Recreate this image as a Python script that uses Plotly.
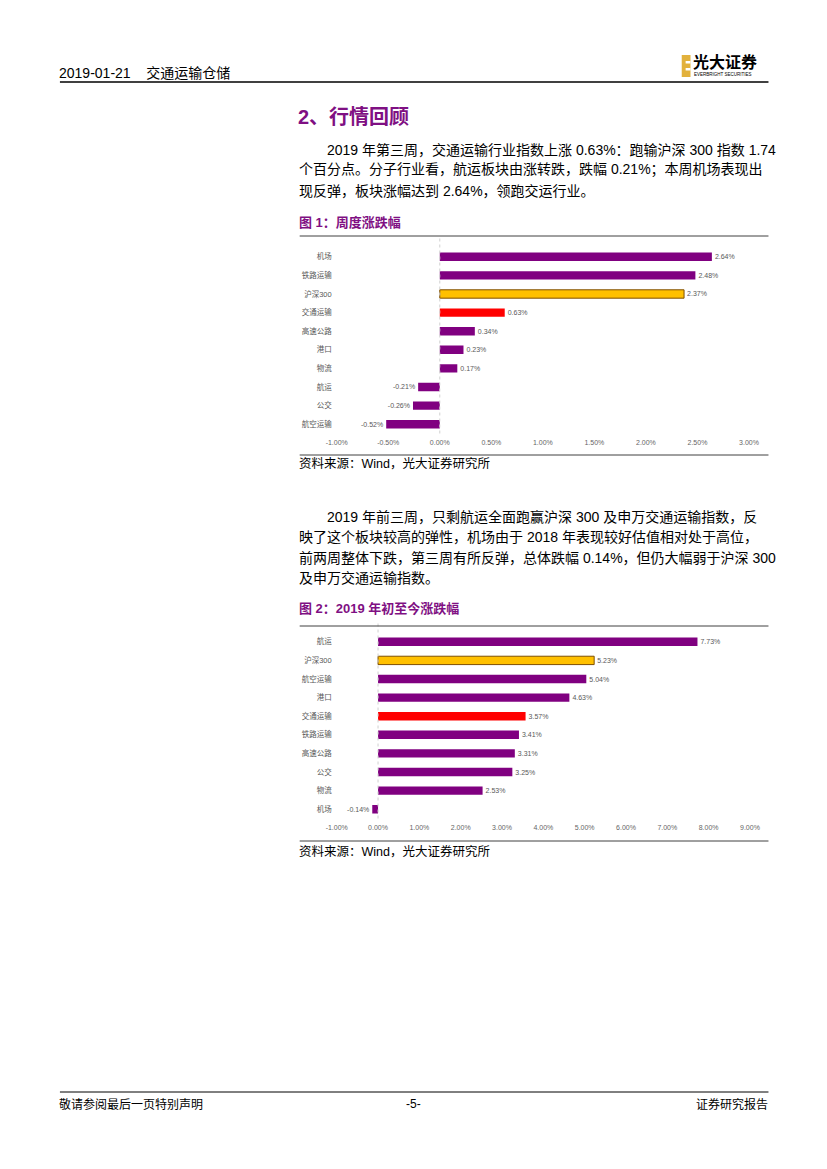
import plotly.graph_objects as go

# ---- data ----
weekly_cats = ["机场", "铁路运输", "沪深300", "交通运输", "高速公路", "港口", "物流", "航运", "公交", "航空运输"]
weekly_vals = [2.64, 2.48, 2.37, 0.63, 0.34, 0.23, 0.17, -0.21, -0.26, -0.52]

ytd_cats = ["航运", "沪深300", "航空运输", "港口", "交通运输", "铁路运输", "高速公路", "公交", "物流", "机场"]
ytd_vals = [7.73, 5.23, 5.04, 4.63, 3.57, 3.41, 3.31, 3.25, 2.53, -0.14]

weekly_ticks = [-1.0, -0.5, 0.0, 0.5, 1.0, 1.5, 2.0, 2.5, 3.0]
ytd_ticks = [-1, 0, 1, 2, 3, 4, 5, 6, 7, 8, 9]

PURPLE = "#800080"
ORANGE = "#FFC000"
RED = "#FF0000"
W, H = 827, 1169
OFF = 8  # page body margin in the browser
FONT = "Liberation Sans, Noto Sans CJK SC, sans-serif"


def colors(cats):
    out = []
    for c in cats:
        if c == "沪深300":
            out.append(ORANGE)
        elif c == "交通运输":
            out.append(RED)
        else:
            out.append(PURPLE)
    return out


def borders(cats):
    return ["#7F4F00" if c == "沪深300" else "rgba(0,0,0,0)" for c in cats]


def px(x):
    return (x - OFF) / W


def py(y):
    return 1 - (y - OFF) / H


fig = go.Figure()

fig.add_trace(go.Bar(
    x=weekly_vals, y=weekly_cats, orientation="h", width=0.45,
    marker=dict(color=colors(weekly_cats), line=dict(color=borders(weekly_cats), width=1)),
    text=[f"{v:.2f}%" for v in weekly_vals], textposition="outside",
    textfont=dict(size=7, color="#595959", family=FONT), cliponaxis=False,
    xaxis="x", yaxis="y", showlegend=False, hoverinfo="skip"))

fig.add_trace(go.Bar(
    x=ytd_vals, y=ytd_cats, orientation="h", width=0.45,
    marker=dict(color=colors(ytd_cats), line=dict(color=borders(ytd_cats), width=1)),
    text=[f"{v:.2f}%" for v in ytd_vals], textposition="outside",
    textfont=dict(size=7, color="#595959", family=FONT), cliponaxis=False,
    xaxis="x2", yaxis="y2", showlegend=False, hoverinfo="skip"))

axis_font = dict(size=7, color="#666666", family=FONT)

fig.update_layout(
    width=W, height=H, margin=dict(l=0, r=0, t=0, b=0),
    paper_bgcolor="white", plot_bgcolor="white",
    font=dict(family=FONT),
    xaxis=dict(domain=[px(334), px(757)], range=[-1, 3], anchor="y",
               tickvals=weekly_ticks, ticktext=[f"{v:.2f}%" for v in weekly_ticks],
               tickfont=axis_font, showgrid=False, zeroline=False, showline=False, ticks="",
               ticklabelstandoff=3, fixedrange=True),
    yaxis=dict(domain=[py(433.5), py(247.5)], anchor="x", autorange="reversed",
               categoryorder="array", categoryarray=weekly_cats,
               tickfont=dict(size=7.5, color="#595959", family=FONT),
               showgrid=False, zeroline=False, showline=False, ticks="", ticklabelstandoff=4),
    xaxis2=dict(domain=[px(334), px(758)], range=[-1, 9], anchor="y2",
                tickvals=ytd_ticks, ticktext=[f"{v:.2f}%" for v in ytd_ticks],
                tickfont=axis_font, showgrid=False, zeroline=False, showline=False, ticks="",
                ticklabelstandoff=3),
    yaxis2=dict(domain=[py(818.5), py(632.5)], anchor="x2", autorange="reversed",
                categoryorder="array", categoryarray=ytd_cats,
                tickfont=dict(size=7.5, color="#595959", family=FONT),
                showgrid=False, zeroline=False, showline=False, ticks="", ticklabelstandoff=4),
)

shapes = []
# zero lines
for xr, yr in (("x", "y domain"), ("x2", "y2 domain")):
    shapes.append(dict(type="line", xref=xr, yref=yr, x0=0, x1=0, y0=0, y1=1.05,
                       line=dict(color="#D0D0D0", width=1, dash="dot")))
# header / rules
shapes.append(dict(type="line", xref="paper", yref="paper", x0=px(50), x1=px(777), y0=py(82), y1=py(82),
                   line=dict(color="black", width=1.5)))
shapes.append(dict(type="line", xref="paper", yref="paper", x0=px(50), x1=px(777), y0=py(1092), y1=py(1092),
                   line=dict(color="black", width=1)))
for yy in (236, 455, 626, 841):
    shapes.append(dict(type="line", xref="paper", yref="paper", x0=px(296), x1=px(777), y0=py(yy), y1=py(yy),
                       line=dict(color="#404040", width=1)))
# logo
shapes.append(dict(type="rect", xref="paper", yref="paper", x0=px(688), x1=px(697), y0=py(77), y1=py(55),
                   fillcolor="#E2B13C", line=dict(width=0)))
for yy in (61, 68):
    shapes.append(dict(type="rect", xref="paper", yref="paper", x0=px(692), x1=px(697), y0=py(yy + 2.5), y1=py(yy),
                       fillcolor="white", line=dict(width=0)))
fig.update_layout(shapes=shapes)

ann = []


def text(x, y, s, size=14, color="black", anchor="left", bold=False, family=FONT):
    if bold:
        s = f"<b>{s}</b>"
    ann.append(dict(x=px(x), y=py(y), xref="paper", yref="paper", text=s, showarrow=False,
                    xanchor=anchor, yanchor="middle", borderpad=0,
                    font=dict(size=size, color=color, family=family)))


text(48, 73, "2019-01-21&nbsp;&nbsp;&nbsp;&nbsp;交通运输仓储", size=14)
text(699, 61.5, "光大证券", size=16, bold=True)
text(700, 75, "EVERBRIGHT SECURITIES", size=4.5)
text(293, 117, "2、行情回顾", size=20, color="#7F1083", bold=True)

para1 = [
    (323, 150, "2019 年第三周，交通运输行业指数上涨 0.63%：跑输沪深 300 指数 1.74"),
    (294, 170, "个百分点。分子行业看，航运板块由涨转跌，跌幅 0.21%；本周机场表现出"),
    (294, 191, "现反弹，板块涨幅达到 2.64%，领跑交运行业。"),
]
for x, y, s in para1:
    text(x, y, s, size=14)
text(294, 223, "图 1：周度涨跌幅", size=13, color="#7F1083", bold=True)
text(294, 464, "资料来源：Wind，光大证券研究所", size=12.5)

para2 = [
    (323, 517, "2019 年前三周，只剩航运全面跑赢沪深 300 及申万交通运输指数，反"),
    (294, 537, "映了这个板块较高的弹性，机场由于 2018 年表现较好估值相对处于高位，"),
    (294, 558, "前两周整体下跌，第三周有所反弹，总体跌幅 0.14%，但仍大幅弱于沪深 300"),
    (294, 578, "及申万交通运输指数。"),
]
for x, y, s in para2:
    text(x, y, s, size=14)
text(294, 608, "图 2：2019 年初至今涨跌幅", size=13, color="#7F1083", bold=True)
text(294, 851, "资料来源：Wind，光大证券研究所", size=12.5)

text(48, 1104, "敬请参阅最后一页特别声明", size=12)
text(413, 1104, "-5-", size=12, anchor="center")
text(778, 1104, "证券研究报告", size=12, anchor="right")

fig.update_layout(annotations=ann)
fig.write_html("out.html")
